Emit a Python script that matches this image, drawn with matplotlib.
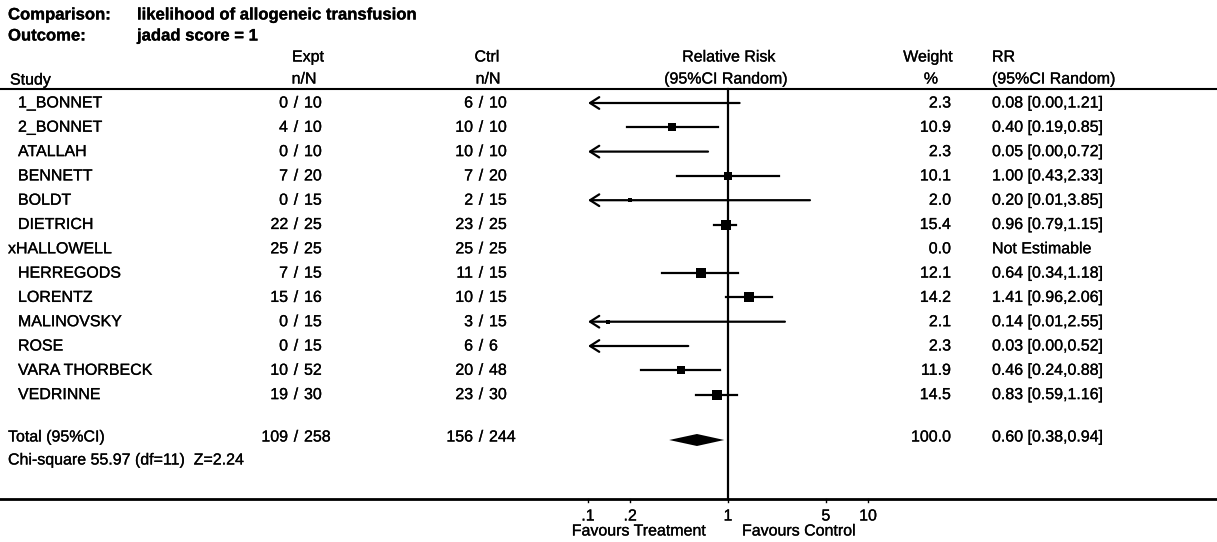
import matplotlib
matplotlib.use("Agg")
import matplotlib.pyplot as plt
import matplotlib.patheffects as pe
import numpy as np

plt.rcParams['font.family'] = ['Liberation Sans', 'DejaVu Sans']
plt.rcParams['font.size'] = 11.5
# slightly heavier strokes, like the printed RevMan output
heavy = [pe.withStroke(linewidth=0.2, foreground='black')]

# Study data
studies = ['1_BONNET', '2_BONNET', 'ATALLAH', 'BENNETT', 'BOLDT', 'DIETRICH',
           'xHALLOWELL', 'HERREGODS', 'LORENTZ', 'MALINOVSKY', 'ROSE',
           'VARA THORBECK', 'VEDRINNE']
expt_n = [0, 4, 0, 7, 0, 22, 25, 7, 15, 0, 0, 10, 19]
expt_N = [10, 10, 10, 20, 15, 25, 25, 15, 16, 15, 15, 52, 30]
ctrl_n = [6, 10, 10, 7, 2, 23, 25, 11, 10, 3, 6, 20, 23]
ctrl_N = [10, 10, 10, 20, 15, 25, 25, 15, 15, 15, 6, 48, 30]
weight = [2.3, 10.9, 2.3, 10.1, 2.0, 15.4, 0.0, 12.1, 14.2, 2.1, 2.3, 11.9, 14.5]
rr = [0.08, 0.40, 0.05, 1.00, 0.20, 0.96, np.nan, 0.64, 1.41, 0.14, 0.03, 0.46, 0.83]
rr_lo = [0.00, 0.19, 0.00, 0.43, 0.01, 0.79, np.nan, 0.34, 0.96, 0.01, 0.00, 0.24, 0.59]
rr_hi = [1.21, 0.85, 0.72, 2.33, 3.85, 1.15, np.nan, 1.18, 2.06, 2.55, 0.52, 0.88, 1.16]

# Pooled result
total_expt = (109, 258)
total_ctrl = (156, 244)
total_weight = 100.0
total_rr, total_lo, total_hi = 0.60, 0.38, 0.94
het_text = 'Chi-square 55.97 (df=11)  Z=2.24'

ticks = [0.1, 0.2, 1, 5, 10]
tick_labels = ['.1', '.2', '1', '5', '10']

W, H = 1217, 542
fig = plt.figure(figsize=(W / 100, H / 100), dpi=100)
fig.patch.set_facecolor('white')

# text table in pixel units
tab = fig.add_axes([0, 0, 1, 1])
tab.set_xlim(0, W)
tab.set_ylim(H, 0)
tab.axis('off')

# forest panel, log scale .1 .. 10
x_lo, x_hi = 588, 868
fp = fig.add_axes([x_lo / W, 0, (x_hi - x_lo) / W, 1])
fp.set_xscale('log')
fp.set_xlim(0.1, 10)
fp.set_ylim(H, 0)
fp.axis('off')

row0, step = 103, 24.3
ys = row0 + step * np.arange(len(studies))
y_total = 440
y_chi = 460
y_head = 89
y_base = 499


def txt(ax, x, y, s, **kw):
    kw.setdefault('va', 'center')
    return ax.text(x, y, s, path_effects=heavy, **kw)


# titles
txt(tab, 8, 15, 'Comparison:', fontweight='bold', fontsize=12)
txt(tab, 137, 15, 'likelihood of allogeneic transfusion', fontweight='bold', fontsize=12)
txt(tab, 8, 36, 'Outcome:', fontweight='bold', fontsize=12)
txt(tab, 137, 36, 'jadad score = 1', fontweight='bold', fontsize=12)

# column headers
txt(tab, 10, 80, 'Study')
txt(tab, 308, 57, 'Expt', ha='center')
txt(tab, 304, 79, 'n/N', ha='center')
txt(tab, 487, 57, 'Ctrl', ha='center')
txt(tab, 488, 79, 'n/N', ha='center')
txt(tab, 729, 57, 'Relative Risk', ha='center')
txt(tab, 726, 79, '(95%CI Random)', ha='center')
txt(tab, 928, 57, 'Weight', ha='center')
txt(tab, 931, 79, '%', ha='center')
txt(tab, 992, 57, 'RR')
txt(tab, 992, 79, '(95%CI Random)')

tab.plot([0, W], [y_head, y_head], color='black', lw=1.5)
tab.plot([0, W], [y_base, y_base], color='black', lw=2)


def frac(x_slash, y, n, N, gap=8):
    txt(tab, x_slash - gap, y, str(n), ha='right')
    txt(tab, x_slash, y, '/', ha='center')
    txt(tab, x_slash + gap, y, str(N), ha='left')


for i, y in enumerate(ys):
    x_name = 8 if studies[i].startswith('x') else 18
    txt(tab, x_name, y, studies[i])
    frac(296, y, expt_n[i], expt_N[i])
    frac(481, y, ctrl_n[i], ctrl_N[i])
    txt(tab, 951, y, f'{weight[i]:.1f}', ha='right')
    if np.isnan(rr[i]):
        txt(tab, 992, y, 'Not Estimable')
        continue
    txt(tab, 992, y, f'{rr[i]:.2f} [{rr_lo[i]:.2f},{rr_hi[i]:.2f}]')

    # confidence interval, arrow when it runs off the left edge
    if rr_lo[i] < 0.1:
        fp.annotate('', xy=(0.1, y), xytext=(rr_hi[i], y),
                    arrowprops=dict(arrowstyle='->,head_length=0.55,head_width=0.35',
                                    lw=1.6, color='black', shrinkA=0, shrinkB=0,
                                    mutation_scale=12))
    else:
        fp.plot([rr_lo[i], rr_hi[i]], [y, y], color='black', lw=1.6)
    if rr[i] >= 0.1:
        side = 2.6 * np.sqrt(weight[i])
        fp.plot(rr[i], y, 's', color='black', ms=side * 0.72, mew=0)

# totals
yt = y_total - 3
txt(tab, 8, yt, 'Total (95%CI)')
frac(296, yt, *total_expt)
frac(481, yt, *total_ctrl)
txt(tab, 951, yt, f'{total_weight:.1f}', ha='right')
txt(tab, 992, yt, f'{total_rr:.2f} [{total_lo:.2f},{total_hi:.2f}]')
txt(tab, 8, y_chi, het_text)

fp.fill([total_lo, total_rr, total_hi, total_rr],
        [y_total, y_total - 6, y_total, y_total + 6], color='black', lw=0)

# line of no effect and axis ticks
fp.plot([1, 1], [y_head, y_base], color='black', lw=1.6)
for t, lab in zip(ticks, tick_labels):
    fp.plot([t, t], [y_base, y_base + 3], color='black', lw=1, clip_on=False)
    txt(fp, t, y_base + 17, lab, ha='center', clip_on=False)

txt(tab, 706, y_base + 32, 'Favours Treatment', ha='right')
txt(tab, 742, y_base + 32, 'Favours Control', ha='left')

fig.savefig('out.png', dpi=100, facecolor='white')
